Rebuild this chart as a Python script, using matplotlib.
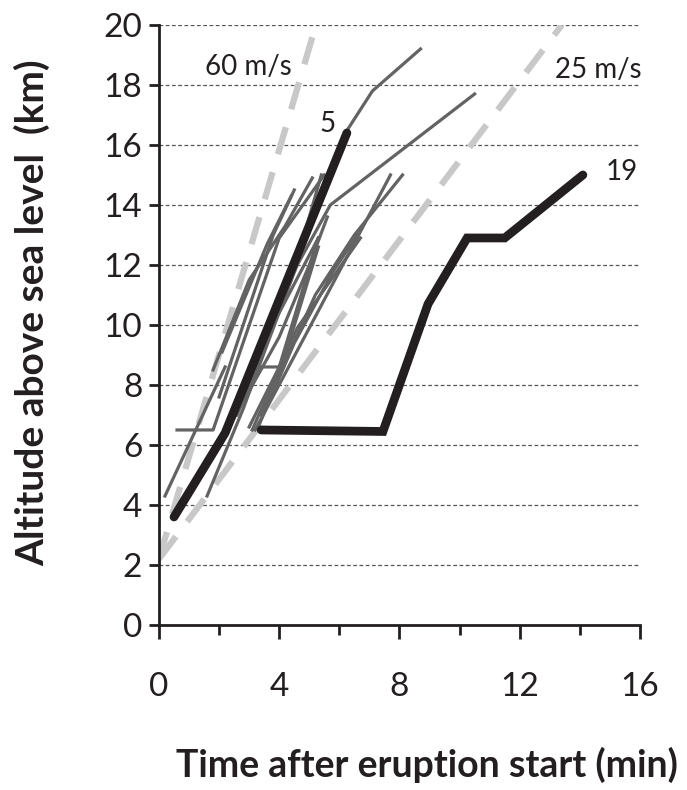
import numpy as np
import matplotlib
matplotlib.use("Agg")
import matplotlib.pyplot as plt

plt.rcParams["font.family"] = ["Lato", "DejaVu Sans"]

# 1. DATA (time in min, altitude in km)

# reference ascent speeds
speed_labels = ["60 m/s", "25 m/s"]
speed_x = [[0.0, 5.22], [0.0, 13.4]]
speed_y = [[2.2, 20.0], [2.2, 20.0]]

# individual plumes (thin grey)
grey_x = [
    [0.2, 2.2],
    [2.1, 3.6, 4.4],
    [0.6, 1.8, 4.0, 5.5],
    [1.6, 2.8, 4.4, 5.4],
    [3.1, 4.6, 6.7],
    [3.2, 7.7],
    [3.4, 5.2, 6.5, 8.1],
    [3.4, 4.0, 5.3],
    [2.6, 4.6, 5.7, 10.5],
    [1.8, 3.0, 4.2, 5.1],
    [2.2, 3.0, 4.1, 5.3],
    [6.2, 7.1, 8.7],
    [2.0, 3.8, 4.5],
    [3.0, 4.2, 5.3],
    [3.3, 4.5, 5.8, 6.6],
    [2.5, 4.0, 5.0, 5.6],
]
grey_y = [
    [4.3, 8.6],
    [9.1, 12.7, 14.3],
    [6.5, 6.5, 12.9, 15.0],
    [4.3, 7.2, 11.5, 15.0],
    [6.5, 9.9, 12.9],
    [6.5, 15.0],
    [7.0, 11.0, 13.0, 15.0],
    [8.6, 8.6, 12.9],
    [7.0, 12.0, 14.0, 17.7],
    [8.5, 11.5, 13.3, 14.9],
    [6.4, 8.5, 10.6, 12.9],
    [16.4, 17.8, 19.2],
    [7.6, 13.0, 14.5],
    [6.6, 9.0, 12.6],
    [6.6, 9.4, 11.8, 13.0],
    [6.9, 9.6, 12.0, 13.6],
]

# highlighted plumes 5 and 19 (thick black)
p5_x = [0.5, 2.2, 6.25]
p5_y = [3.6, 6.4, 16.4]
p19_x = [3.4, 7.45, 8.95, 10.25, 11.5, 14.1]
p19_y = [6.5, 6.45, 10.7, 12.9, 12.9, 15.0]

# 2. PLOT

fig = plt.figure(figsize=(6.87, 7.90), dpi=100)
ax = fig.add_axes([0.2314, 0.2089, 0.7002, 0.7595])

for y in range(2, 21, 2):
    ax.axhline(y, color="#555555", lw=0.9, dashes=(3, 2), zorder=0)

for xs, ys in zip(speed_x, speed_y):
    ax.plot(xs, ys, color="#c8c8c8", lw=4.5, dashes=(4.5, 3), zorder=1)

for xs, ys in zip(grey_x, grey_y):
    ax.plot(xs, ys, color="#636363", lw=2.3, zorder=2)

for xs, ys in [(p5_x, p5_y), (p19_x, p19_y)]:
    ax.plot(xs, ys, color="#231f20", lw=6.3, solid_capstyle="round",
            solid_joinstyle="miter", zorder=3)

ax.text(2.97, 18.6, speed_labels[0], fontsize=20, color="#231f20", ha="center", va="center")
ax.text(14.6, 18.5, speed_labels[1], fontsize=20, color="#231f20", ha="center", va="center")
ax.text(5.6, 16.7, "5", fontsize=20, color="#231f20", ha="center", va="center")
ax.text(15.4, 15.1, "19", fontsize=20, color="#231f20", ha="center", va="center")

ax.set_xlim(0, 16)
ax.set_ylim(0, 20)
ax.set_xticks([0, 4, 8, 12, 16])
ax.set_xticks([2, 6, 10, 14], minor=True)
ax.set_yticks(range(0, 21, 2))

for s in ["top", "right"]:
    ax.spines[s].set_visible(False)
for s in ["left", "bottom"]:
    ax.spines[s].set_linewidth(2)
    ax.spines[s].set_color("#231f20")

ax.tick_params(axis="x", which="major", direction="out", length=10, width=2,
               color="#231f20", labelsize=24, pad=24, labelcolor="#231f20")
ax.tick_params(axis="x", which="minor", direction="out", length=7, width=2, color="#231f20")
ax.tick_params(axis="y", direction="out", length=7, width=2, color="#231f20",
               labelsize=24, pad=5, labelcolor="#231f20")

ax.set_xlabel("Time after eruption start (min)", fontsize=27, fontweight="bold",
              color="#231f20")
ax.set_ylabel("Altitude above sea level  (km)", fontsize=28, fontweight="bold",
              color="#231f20")
ax.xaxis.set_label_coords(0.557, -0.233)
ax.xaxis.label.set_va("center")
ax.yaxis.set_label_coords(-0.264, 0.52)
ax.yaxis.label.set_va("center")

fig.savefig("out.png", dpi=100)
